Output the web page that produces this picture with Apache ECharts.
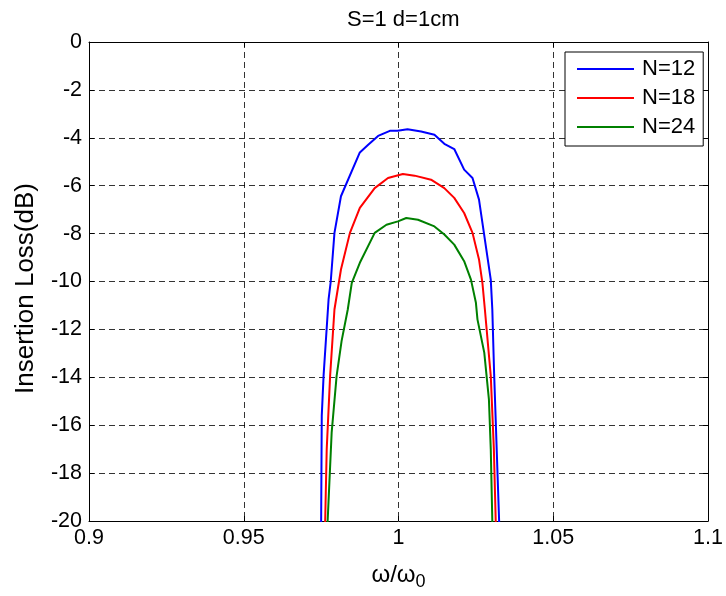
<!DOCTYPE html>
<html><head><meta charset="utf-8">
<script src="https://cdn.jsdelivr.net/npm/echarts@6/dist/echarts.min.js"></script>
<style>html,body{margin:0;padding:0;background:#fff}#c{width:726px;height:596px}</style>
</head><body><div id="c"></div>
<script>
const seriesNames = ['N=12', 'N=18', 'N=24'];
const seriesColors = ['#0000ff', '#ff0000', '#008000'];
const xN12 = [0.9749,0.9750,0.9752,0.9758,0.9774,0.9781,0.9793,0.9814,0.9875,0.9902,0.9934,0.9972,0.9997,1.0029,1.0073,1.0116,1.0148,1.0180,1.0212,1.0239,1.0260,1.0298,1.0303,1.0309,1.0325,1.0327];
const yN12 = [-24,-20,-15.6,-13.9,-10.75,-10,-7.97,-6.44,-4.61,-4.29,-3.92,-3.71,-3.71,-3.64,-3.74,-3.87,-4.25,-4.47,-5.33,-5.68,-6.58,-9.92,-11.17,-13.9,-20,-24];
const xN18 = [0.9762,0.9763,0.9768,0.9779,0.9793,0.9814,0.9843,0.9875,0.9923,0.9966,1.0014,1.0052,1.0105,1.0148,1.0180,1.0212,1.0239,1.0260,1.0271,1.0279,1.0298,1.0308,1.0314,1.0315];
const yN18 = [-24,-20,-17,-13.94,-11.17,-9.5,-7.97,-6.93,-6.1,-5.68,-5.51,-5.58,-5.75,-6.1,-6.51,-7.14,-7.97,-9.08,-10.06,-11.17,-13.94,-17,-20,-24];
const xN24 = [0.9770,0.9771,0.9784,0.9800,0.9816,0.9836,0.9849,0.9875,0.9923,0.9961,0.9998,1.0025,1.0063,1.0116,1.0148,1.0180,1.0212,1.0234,1.0250,1.0255,1.0277,1.0292,1.0298,1.0303,1.0304];
const yN24 = [-24,-20,-16.3,-13.94,-12.49,-11.17,-10.06,-9.22,-7.97,-7.63,-7.49,-7.35,-7.42,-7.7,-8.04,-8.46,-9.15,-9.92,-10.89,-11.58,-12.97,-14.92,-17,-20,-24];
const xTicks = [0.9, 0.95, 1, 1.05, 1.1];
const yTicks = [0, -2, -4, -6, -8, -10, -12, -14, -16, -18, -20];

const xs = [xN12, xN18, xN24], ys = [yN12, yN18, yN24];
const font = 'Liberation Sans, Arial, sans-serif';
const chart = echarts.init(document.getElementById('c'));
const gridLine = {show: true, lineStyle: {color: '#000', type: [6, 4], width: 1, opacity: 0.8}};
chart.setOption({
  animation: false,
  backgroundColor: '#fff',
  title: {text: 'S=1 d=1cm', left: 342, top: 4, textStyle: {fontFamily: font, fontSize: 22, fontWeight: 'normal', color: '#000'}},
  grid: {left: 89, right: 14, top: 42, bottom: 74, show: false},
  legend: {
    data: seriesNames, orient: 'vertical', left: 565, top: 52,
    icon: 'rect', itemWidth: 57, itemHeight: 2, itemGap: 7,
    padding: [6, 8, 8, 12], borderColor: '#000', borderWidth: 1, backgroundColor: '#fff',
    textStyle: {fontFamily: font, fontSize: 22, color: '#000', lineHeight: 22, padding: [0, 0, 0, 3]}
  },
  xAxis: [{
    type: 'value', min: 0.9, max: 1.1, interval: 0.05,
    axisLine: {show: true, onZero: false, lineStyle: {color: '#000', width: 1}},
    axisTick: {inside: true, length: 5, lineStyle: {color: '#000'}},
    axisLabel: {fontFamily: font, fontSize: 21.5, color: '#000', margin: 6,
      formatter: v => { const t = xTicks.find(k => Math.abs(k - v) < 1e-6); return t === undefined ? '' : String(t); }},
    splitLine: gridLine,
    name: '{a|ω/ω}{b|0}', nameLocation: 'middle', nameGap: 38,
    nameTextStyle: {rich: {a: {fontFamily: font, fontSize: 24, color: '#000'}, b: {fontFamily: font, fontSize: 18, color: '#000', padding: [14, 0, 0, 0]}}}
  }, {
    type: 'value', position: 'top', min: 0.9, max: 1.1, interval: 0.05,
    axisLine: {show: true, onZero: false, lineStyle: {color: '#000', width: 1}},
    axisTick: {inside: true, length: 5, lineStyle: {color: '#000'}},
    axisLabel: {show: false}, splitLine: {show: false}
  }],
  yAxis: [{
    type: 'value', min: -20, max: 0, interval: 2,
    axisLine: {show: true, onZero: false, lineStyle: {color: '#000', width: 1}},
    axisTick: {inside: true, length: 5, lineStyle: {color: '#000'}},
    axisLabel: {fontFamily: font, fontSize: 21.5, color: '#000', margin: 7},
    splitLine: gridLine,
    name: 'Insertion Loss(dB)', nameLocation: 'middle', nameGap: 50,
    nameTextStyle: {fontFamily: font, fontSize: 26, color: '#000', padding: [0, 14, 0, 0]}
  }, {
    type: 'value', position: 'right', min: -20, max: 0, interval: 2,
    axisLine: {show: true, onZero: false, lineStyle: {color: '#000', width: 1}},
    axisTick: {inside: true, length: 5, lineStyle: {color: '#000'}},
    axisLabel: {show: false}, splitLine: {show: false}
  }],
  series: seriesNames.map((n, i) => ({
    name: n, type: 'line', xAxisIndex: 0, yAxisIndex: 0, showSymbol: false, clip: true,
    color: seriesColors[i], lineStyle: {color: seriesColors[i], width: 2},
    data: xs[i].map((x, j) => [x, ys[i][j]])
  }))
});
</script></body></html>
